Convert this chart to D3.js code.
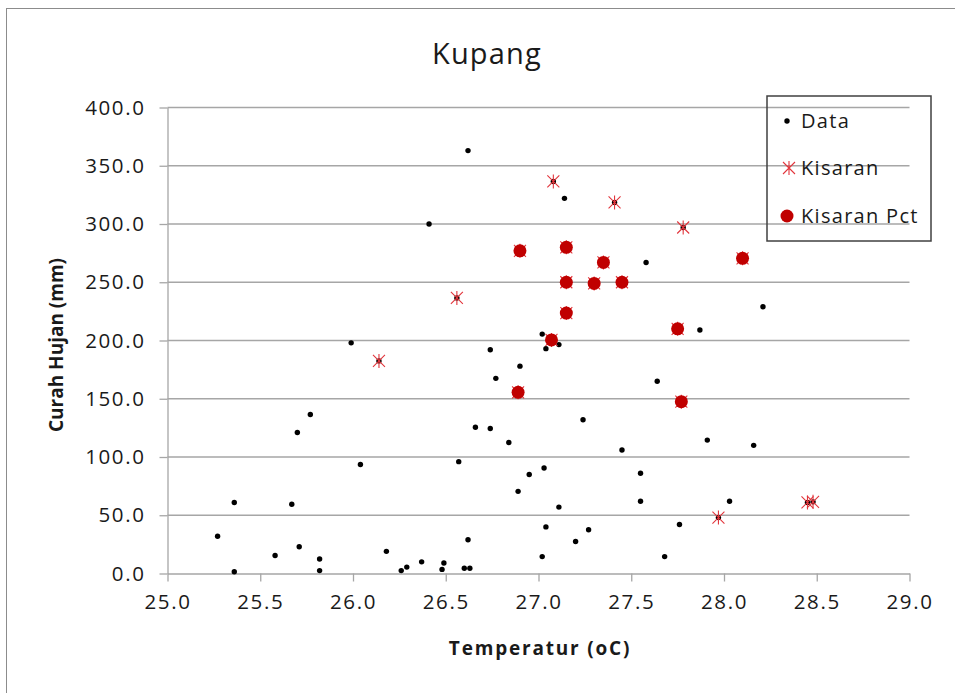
<!DOCTYPE html>
<html>
<head>
<meta charset="utf-8">
<script src="https://cdn.jsdelivr.net/npm/d3@7"></script>
<style>
  html, body { margin: 0; padding: 0; background: #fff; }
  svg { display: block; font-family: 'Open Sans', sans-serif; }
</style>
</head>
<body>
<svg id="chart" width="955" height="693"></svg>
<script>
// ---- Data ----
const titleText = "Kupang";
const xLabel = "Temperatur (oC)";
const yLabel = "Curah Hujan (mm)";
const xTicks = [25.0, 25.5, 26.0, 26.5, 27.0, 27.5, 28.0, 28.5, 29.0];
const yTicks = [0, 50, 100, 150, 200, 250, 300, 350, 400];

// Series "Data" (all monthly points)
const dataTemp = [25.27, 25.36, 25.36, 25.58, 25.67, 25.70, 25.71, 25.77, 25.82, 25.82,
  25.99, 26.04, 26.18, 26.26, 26.29, 26.37, 26.41, 26.48, 26.49, 26.57,
  26.60, 26.62, 26.62, 26.63, 26.66, 26.74, 26.74, 26.77, 26.84, 26.89,
  26.90, 26.95, 27.02, 27.02, 27.03, 27.04, 27.04, 27.11, 27.11, 27.14,
  27.20, 27.24, 27.27, 27.45, 27.55, 27.55, 27.58, 27.64, 27.68, 27.76,
  27.87, 27.91, 28.03, 28.16, 28.21,
  26.14, 26.56, 27.08, 27.41, 27.78, 27.97, 28.45, 28.48,
  26.89, 26.90, 27.07, 27.15, 27.15, 27.15, 27.30, 27.35, 27.45, 27.75, 27.77, 28.10];
const dataRain = [32, 61, 1.5, 15.5, 59.5, 121, 23, 136.5, 12.5, 2.5,
  198, 93.5, 19, 2.5, 5.5, 10, 300, 3.5, 9, 96,
  4.5, 363, 29, 4.5, 125.5, 192, 124.5, 167.5, 112.5, 70.5,
  178, 85, 205.5, 14.5, 90.5, 193, 40, 196.5, 57, 322,
  27.5, 132, 37.5, 106, 86, 62, 267, 165, 14.5, 42,
  209, 114.5, 62, 110, 229,
  182.5, 236.5, 336.5, 318.5, 297, 48, 61, 61.5,
  155.5, 277, 200.5, 280, 250, 223.5, 249, 267, 250, 210, 147.5, 270.5];

// Series "Kisaran"
const kisaranTemp = [26.14, 26.56, 27.08, 27.41, 27.78, 27.97, 28.45, 28.48,
  26.89, 26.90, 27.07, 27.15, 27.15, 27.15, 27.30, 27.35, 27.45, 27.75, 27.77, 28.10];
const kisaranRain = [182.5, 236.5, 336.5, 318.5, 297, 48, 61, 61.5,
  155.5, 277, 200.5, 280, 250, 223.5, 249, 267, 250, 210, 147.5, 270.5];

// Series "Kisaran Pct"
const pctTemp = [26.89, 26.90, 27.07, 27.15, 27.15, 27.15, 27.30, 27.35, 27.45, 27.75, 27.77, 28.10];
const pctRain = [155.5, 277, 200.5, 280, 250, 223.5, 249, 267, 250, 210, 147.5, 270.5];

const legendItems = ["Data", "Kisaran", "Kisaran Pct"];

// ---- Layout ----
const svg = d3.select("#chart");
const x = d3.scaleLinear().domain([25, 29]).range([167.5, 909.5]);
const y = d3.scaleLinear().domain([0, 400]).range([573.5, 107.5]);

const gridColor = "#a6a6a6";
const textColor = "#1a1a1a";
const starColor = "#e2353c";
const pctColor = "#c00000";

// chart border
svg.append("rect")
  .attr("x", 6.5).attr("y", 8.5)
  .attr("width", 970).attr("height", 700)
  .attr("fill", "none").attr("stroke", "#8c8c8c").attr("stroke-width", 1);

// gridlines
svg.append("g").selectAll("line")
  .data(yTicks.filter(d => d > 0))
  .join("line")
  .attr("x1", x(25)).attr("x2", x(29))
  .attr("y1", d => y(d)).attr("y2", d => y(d))
  .attr("stroke", gridColor).attr("stroke-width", 1.3);

// y axis
const yAxis = d3.axisLeft(y).tickValues(yTicks).tickFormat(d3.format(".1f"))
  .tickSizeInner(8).tickSizeOuter(0).tickPadding(14);
const gy = svg.append("g").attr("transform", `translate(${x(25)},0)`).call(yAxis);
gy.select(".domain").attr("stroke", gridColor).attr("stroke-width", 1.3);
gy.selectAll(".tick line").attr("stroke", gridColor).attr("stroke-width", 1.3);
gy.selectAll(".tick text")
  .attr("font-family", "'Open Sans', sans-serif").attr("font-size", 20.5)
  .attr("letter-spacing", 1.6).attr("fill", textColor);

// x axis
const xAxis = d3.axisBottom(x).tickValues(xTicks).tickFormat(d3.format(".1f"))
  .tickSizeInner(8).tickSizeOuter(0).tickPadding(13);
const gx = svg.append("g").attr("transform", `translate(0,${y(0)})`).call(xAxis);
gx.select(".domain").attr("stroke", gridColor).attr("stroke-width", 1.3);
gx.selectAll(".tick line").attr("stroke", gridColor).attr("stroke-width", 1.3);
gx.selectAll(".tick text")
  .attr("font-family", "'Open Sans', sans-serif").attr("font-size", 20.5)
  .attr("letter-spacing", 1.6).attr("fill", textColor);

// title
svg.append("text")
  .attr("x", 487).attr("y", 64)
  .attr("text-anchor", "middle")
  .attr("font-size", 29).attr("letter-spacing", 1.2)
  .attr("fill", textColor)
  .text(titleText);

// axis titles
svg.append("text")
  .attr("x", 540).attr("y", 655)
  .attr("text-anchor", "middle")
  .attr("font-size", 19).attr("font-weight", "bold").attr("letter-spacing", 1.8)
  .attr("fill", textColor)
  .text(xLabel);

svg.append("text")
  .attr("transform", `translate(63,345) rotate(-90)`)
  .attr("text-anchor", "middle")
  .attr("font-size", 19).attr("font-weight", "bold")
  .attr("fill", textColor)
  .text(yLabel);

// marks
const starPath = "M-6,-6L6,6M-6,6L6,-6M0,-7L0,7";

svg.append("g").selectAll("circle")
  .data(dataTemp.map((t, i) => [t, dataRain[i]]))
  .join("circle")
  .attr("cx", d => x(d[0])).attr("cy", d => y(d[1]))
  .attr("r", 2.7).attr("fill", "#000");

svg.append("g").selectAll("path")
  .data(kisaranTemp.map((t, i) => [t, kisaranRain[i]]))
  .join("path")
  .attr("transform", d => `translate(${x(d[0])},${y(d[1])})`)
  .attr("d", starPath)
  .attr("fill", "none").attr("stroke", starColor).attr("stroke-width", 1.1);

svg.append("g").selectAll("circle")
  .data(pctTemp.map((t, i) => [t, pctRain[i]]))
  .join("circle")
  .attr("cx", d => x(d[0])).attr("cy", d => y(d[1]))
  .attr("r", 6.5).attr("fill", pctColor);

// legend (transparent box)
const lg = svg.append("g");
lg.append("rect")
  .attr("x", 767).attr("y", 96).attr("width", 164).attr("height", 145)
  .attr("fill", "none").attr("stroke", "#404040").attr("stroke-width", 1.5);
const legY = [121, 168, 216];
legendItems.forEach((name, i) => {
  const cy = legY[i];
  if (i === 0) {
    lg.append("circle").attr("cx", 787).attr("cy", cy).attr("r", 2.7).attr("fill", "#000");
  } else if (i === 1) {
    lg.append("path").attr("transform", `translate(789,${cy})`).attr("d", starPath)
      .attr("fill", "none").attr("stroke", starColor).attr("stroke-width", 1.1);
  } else {
    lg.append("circle").attr("cx", 787).attr("cy", cy).attr("r", 6.5).attr("fill", pctColor);
  }
  lg.append("text")
    .attr("x", 801).attr("y", cy).attr("dy", "0.35em")
    .attr("font-size", 20).attr("letter-spacing", 1.3)
    .attr("fill", textColor)
    .text(name);
});
</script>
</body>
</html>
